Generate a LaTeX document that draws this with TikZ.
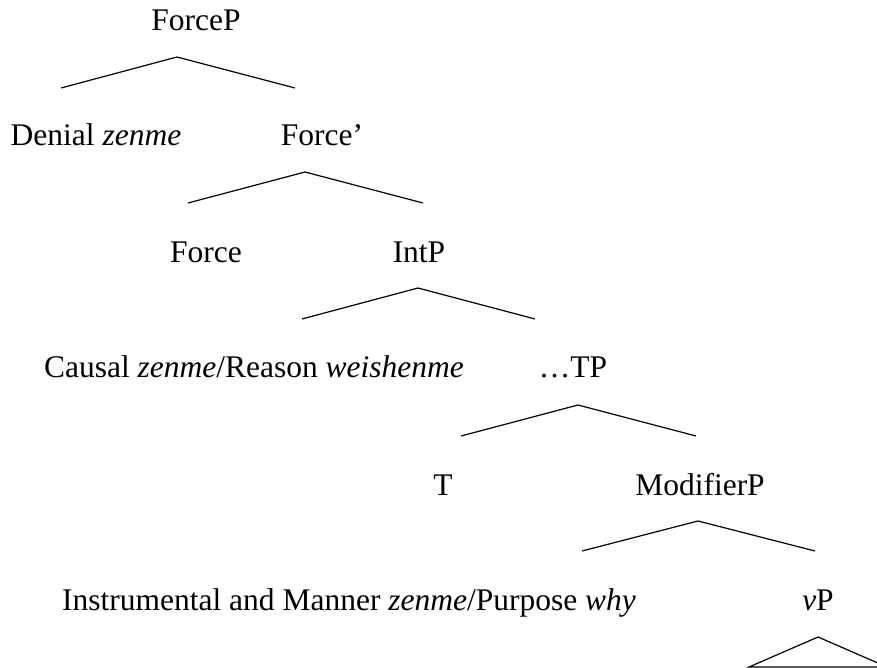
\documentclass[tikz,border=0pt]{standalone}
\usepackage{fontspec}
\setmainfont{Liberation Serif}
\begin{document}
\begin{tikzpicture}[x=1pt,y=-1pt,
  lbl/.style={anchor=base,inner sep=0pt,font=\fontsize{31.5}{36}\selectfont},
  branch/.style={line width=1.2pt,line join=miter}]
\useasboundingbox (0,0) rectangle (877,668);

% labels
\node[lbl] (forcep)   at (196,31)  {ForceP};
\node[lbl] (denial)   at (96,146)  {Denial \textit{zenme}};
\node[lbl] (forcebar) at (322,146) {Force’};
\node[lbl] (force)    at (206,262) {Force};
\node[lbl] (intp)     at (419,262) {IntP};
\node[lbl] (causal)   at (254,377) {Causal \textit{zenme}/Reason \textit{weishenme}};
\node[lbl] (tp)       at (573,377) {…TP};
\node[lbl] (t)        at (443,495) {T};
\node[lbl] (modp)     at (700,495) {ModifierP};
\node[lbl] (instr)    at (349,610) {Instrumental and Manner \textit{zenme}/Purpose \textit{why}};
\node[lbl] (vp)       at (818,610) {\textit{v}P};

% branching points
\coordinate (forcep-top) at (177,57);  \coordinate (forcep-l) at (61,88);   \coordinate (forcep-r) at (295,88);
\coordinate (forcebar-top) at (305,172); \coordinate (forcebar-l) at (188,203); \coordinate (forcebar-r) at (423,203);
\coordinate (intp-top) at (418,288);   \coordinate (intp-l) at (302,319);   \coordinate (intp-r) at (535,319);
\coordinate (tp-top) at (578,405);     \coordinate (tp-l) at (461,436);     \coordinate (tp-r) at (696,436);
\coordinate (modp-top) at (698,521);   \coordinate (modp-l) at (582,551);   \coordinate (modp-r) at (815,551);
\coordinate (vp-top) at (818,637);     \coordinate (vp-l) at (749,667);     \coordinate (vp-r) at (887,667);

% branches
\draw[branch] (forcep-l) -- (forcep-top) -- (forcep-r);
\draw[branch] (forcebar-l) -- (forcebar-top) -- (forcebar-r);
\draw[branch] (intp-l) -- (intp-top) -- (intp-r);
\draw[branch] (tp-l) -- (tp-top) -- (tp-r);
\draw[branch] (modp-l) -- (modp-top) -- (modp-r);
% collapsed vP
\draw[branch] (vp-l) -- (vp-top) -- (vp-r) -- cycle;
\end{tikzpicture}
\end{document}
